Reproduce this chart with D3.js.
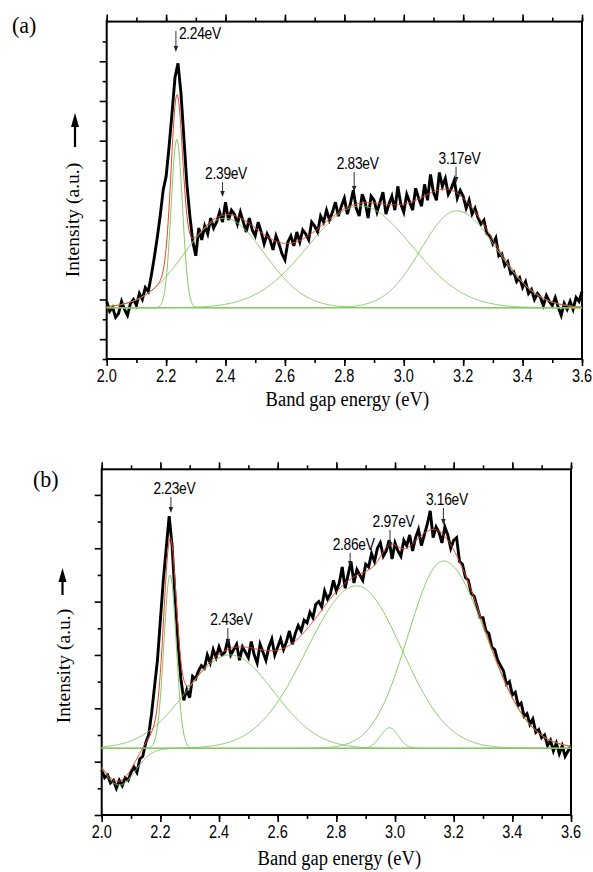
<!DOCTYPE html>
<html>
<head>
<meta charset="utf-8">
<script src="https://cdn.jsdelivr.net/npm/d3@7"></script>
<style>
body { margin: 0; background: #fff; }
svg { display: block; }
</style>
</head>
<body>
<svg id="chart" width="593" height="872"></svg>
<script>
// measured spectra, one value every 0.01 eV from 2.00 to 3.60
var energyStart = 2.0, energyStep = 0.01;

var spectrumA = [
  2.9, 2.4, 2.6, 2.1, 2.3, 2.9, 2.5, 2.2, 2.8, 3.0,
  2.7, 3.3, 3.0, 3.6, 3.4, 4.2, 5.1, 6.1, 7.2, 8.5,
  9.2, 10.7, 12.4, 14.2, 14.9, 13.4, 11.1, 8.8, 7.2, 5.9,
  5.2, 6.6, 6.0, 6.7, 6.3, 7.1, 6.6, 6.9, 7.4, 6.9,
  7.9, 7.0, 7.5, 7.3, 6.8, 7.4, 6.9, 6.4, 7.1, 6.5,
  6.2, 6.9, 6.4, 5.8, 6.3, 6.0, 5.5, 6.2, 5.8, 5.3,
  5.0, 5.9, 6.2, 5.7, 6.4, 5.9, 6.5, 6.3, 6.0, 6.9,
  6.7, 6.4, 7.2, 6.9, 7.5, 7.0, 7.4, 7.9, 7.2, 7.7,
  8.1, 7.3, 7.8, 8.5, 7.6, 7.2, 8.3, 7.9, 7.1, 8.2,
  8.0, 7.4, 7.9, 8.4, 7.3, 7.8, 8.2, 7.5, 8.7, 7.8,
  7.4, 8.3, 7.9, 7.5, 8.6, 8.1, 7.7, 8.8, 8.0, 9.3,
  8.4, 8.0, 9.4, 8.7, 9.1, 8.3, 8.6, 9.0, 8.1, 8.5,
  8.2, 7.6, 8.0, 7.3, 7.6, 7.1, 6.8, 7.0, 6.3, 6.2,
  5.8, 6.1, 5.2, 5.3, 4.7, 4.9, 4.3, 4.4, 3.9, 4.1,
  3.6, 3.9, 3.3, 3.5, 3.0, 3.3, 3.1, 2.7, 3.2, 2.9,
  2.7, 3.1, 2.6, 2.2, 2.8, 2.5, 2.9, 2.5, 3.1, 2.9,
  3.4
];

var spectrumB = [
  1.7, 1.4, 1.5, 1.2, 1.3, 1.0, 1.3, 1.1, 1.4, 1.3,
  1.6, 1.8, 1.6, 2.1, 2.2, 2.7, 3.0, 3.8, 4.8, 5.8,
  7.3, 8.8, 10.0, 11.2, 10.1, 8.2, 6.5, 5.1, 4.3, 4.7,
  4.4, 5.2, 5.1, 5.4, 5.6, 5.5, 6.0, 5.7, 6.2, 5.9,
  6.3, 6.0, 6.1, 6.6, 6.0, 6.2, 6.4, 5.8, 6.3, 6.1,
  5.9, 6.5, 6.0, 5.7, 6.4, 6.1, 5.8, 6.3, 6.6, 6.0,
  6.3, 6.6, 6.2, 6.5, 6.9, 6.4, 6.8, 7.1, 6.9, 7.3,
  7.2, 7.6, 7.4, 7.9, 8.0, 7.8, 8.4, 8.1, 8.3, 8.8,
  8.4, 8.7, 9.3, 8.5, 9.0, 9.5, 8.7, 9.2, 9.0, 8.8,
  9.4, 9.3, 9.8, 9.5, 10.0, 10.2, 9.7, 9.9, 10.3, 9.6,
  10.2, 9.9, 9.7, 10.3, 10.1, 10.5, 9.9, 10.4, 10.7, 10.1,
  10.5, 10.9, 11.4, 10.4, 10.8, 10.6, 10.2, 10.8, 10.5, 10.0,
  10.3, 10.4, 9.5, 9.4, 8.9, 8.8, 8.3, 8.2, 7.8, 7.4,
  7.4, 6.9, 6.8, 6.3, 6.2, 5.8, 5.6, 5.4, 4.9, 5.0,
  4.5, 4.6, 4.1, 4.2, 3.7, 3.8, 3.4, 3.6, 3.1, 3.2,
  2.9, 3.0, 2.6, 2.8, 2.4, 2.7, 2.3, 2.6, 2.2, 2.4,
  2.6
];

// fitted peak components (centre eV, height, left/right width eV)
var baselineA = 2.58;
var peakCentersA = [2.236, 2.396, 2.853, 3.178];
var peakHeightsA = [8.49, 4.51, 5.13, 4.88];
var peakWidthLA = [0.019, 0.135, 0.175, 0.12];
var peakWidthRA = [0.019, 0.135, 0.175, 0.135];

var baselineB = 2.5;
var peakCentersB = [2.06, 2.233, 2.437, 2.869, 2.981, 3.165];
var peakHeightsB = [-1.38, 6.5, 3.5, 6.09, 0.77, 7.02];
var peakWidthLB = [0.055, 0.021, 0.15, 0.17, 0.03, 0.12];
var peakWidthRB = [0.055, 0.021, 0.15, 0.155, 0.03, 0.145];

// arrow labels: energy, arrow tip value
var annotTextA = ["2.24eV", "2.39eV", "2.83eV", "3.17eV"];
var annotEnergyA = [2.233, 2.39, 2.833, 3.176];
var annotTipA = [15.47, 8.16, 8.41, 8.87];
var annotTextB = ["2.23eV", "2.43eV", "2.86eV", "2.97eV", "3.16eV"];
var annotEnergyB = [2.236, 2.43, 2.847, 2.983, 3.165];
var annotTipB = [11.32, 6.37, 9.3, 10.01, 10.87];

var xTicks = [2.0, 2.2, 2.4, 2.6, 2.8, 3.0, 3.2, 3.4, 3.6];

var svg = d3.select("#chart");

function peakValue(e, c, h, wl, wr) {
  var w = e < c ? wl : wr;
  return h * Math.exp(-(e - c) * (e - c) / (2 * w * w));
}

function drawPanel(p) {
  var x = d3.scaleLinear().domain([2.0, 3.6]).range([p.left, p.right]);
  var y = d3.scaleLinear().domain([0, p.ymax]).range([p.bottom, p.top]);
  var g = svg.append("g");

  // minor + major ticks
  var minor = d3.range(20, 37).map(function (d) { return d / 10; });
  g.append("g").attr("transform", "translate(0," + p.bottom + ")")
    .call(d3.axisBottom(x).tickValues(minor).tickSize(4).tickFormat(""));
  g.append("g").attr("transform", "translate(0," + p.bottom + ")")
    .call(d3.axisBottom(x).tickValues(xTicks).tickSize(7).tickFormat(""));
  g.append("g").attr("transform", "translate(0," + p.top + ")")
    .call(d3.axisTop(x).tickValues(minor).tickSize(4).tickFormat(""));
  g.append("g").attr("transform", "translate(0," + p.top + ")")
    .call(d3.axisTop(x).tickValues(xTicks).tickSize(7).tickFormat(""));
  var yTicks = d3.range(0, p.ymaxTick + 1);
  g.append("g").attr("transform", "translate(" + p.left + ",0)")
    .call(d3.axisLeft(y).tickValues(yTicks.filter(function (d) { return d % 2 === p.majorParity; }))
      .tickSize(7).tickFormat(""));
  g.append("g").attr("transform", "translate(" + p.left + ",0)")
    .call(d3.axisLeft(y).tickValues(yTicks.filter(function (d) { return d % 2 !== p.majorParity; }))
      .tickSize(4).tickFormat(""));
  g.selectAll(".domain").remove();
  g.selectAll(".tick line").attr("stroke", "#000").attr("stroke-width", 1.6);

  g.append("rect")
    .attr("x", p.left).attr("y", p.top)
    .attr("width", p.right - p.left).attr("height", p.bottom - p.top)
    .attr("fill", "none").attr("stroke", "#000").attr("stroke-width", 2);

  // tick labels
  xTicks.forEach(function (t) {
    g.append("text")
      .attr("transform", "translate(" + x(t) + "," + (p.bottom + 23) + ") scale(1,1.28)")
      .attr("text-anchor", "middle")
      .attr("font-family", "Liberation Sans, Arial, sans-serif")
      .attr("font-size", 14.5)
      .text(t.toFixed(1));
  });

  // measured spectrum
  var pts = p.spectrum.map(function (v, i) { return [energyStart + i * energyStep, v]; });
  g.append("path")
    .datum(pts)
    .attr("fill", "none").attr("stroke", "#000").attr("stroke-width", 2.9)
    .attr("stroke-linejoin", "miter")
    .attr("d", d3.line().x(function (d) { return x(d[0]); }).y(function (d) { return y(d[1]); }));

  // fit components
  var grid = d3.range(0, 641).map(function (i) { return 2.0 + i * 0.0025; });
  var line = d3.line().x(function (d) { return x(d[0]); }).y(function (d) { return y(d[1]); });
  g.append("line")
    .attr("x1", x(2.0)).attr("x2", x(3.6)).attr("y1", y(p.base)).attr("y2", y(p.base))
    .attr("stroke", "#86c865").attr("stroke-width", 1);
  p.centers.forEach(function (c, k) {
    var comp = grid.map(function (e) {
      return [e, p.base + peakValue(e, c, p.heights[k], p.wl[k], p.wr[k])];
    });
    g.append("path").datum(comp)
      .attr("fill", "none").attr("stroke", "#86c865").attr("stroke-width", 1)
      .attr("d", line);
  });
  var total = grid.map(function (e) {
    var s = p.base;
    p.centers.forEach(function (c, k) { s += peakValue(e, c, p.heights[k], p.wl[k], p.wr[k]); });
    return [e, s];
  });
  g.append("path").datum(total)
    .attr("fill", "none").attr("stroke", "#e8452c").attr("stroke-width", 1)
    .attr("d", line);

  // arrow annotations
  p.annotText.forEach(function (txt, k) {
    var ax = x(p.annotEnergy[k]), tip = y(p.annotTip[k]);
    var top = tip - p.arrowLen[k];
    g.append("line").attr("x1", ax).attr("x2", ax).attr("y1", top).attr("y2", tip - 4)
      .attr("stroke", "#333").attr("stroke-width", 1);
    g.append("path")
      .attr("d", "M" + (ax - 2.2) + "," + (tip - 6) + "L" + (ax + 2.2) + "," + (tip - 6) + "L" + ax + "," + tip + "Z")
      .attr("fill", "#222");
    var tx = p.annotAnchor[k] === "start" ? ax + 3 : ax + 3.5;
    var ty = p.annotAnchor[k] === "start" ? top + 8 : top - 3;
    g.append("text")
      .attr("transform", "translate(" + tx + "," + ty + ") scale(1,1.2)")
      .attr("text-anchor", p.annotAnchor[k])
      .attr("font-family", "Liberation Sans, Arial, sans-serif")
      .attr("font-size", 13.8)
      .attr("letter-spacing", -0.3)
      .text(txt);
  });

  // axis titles
  g.append("text")
    .attr("transform", "translate(" + ((p.left + p.right) / 2 + 3) + "," + (p.bottom + p.xTitleGap) + ") scale(1,1.08)")
    .attr("text-anchor", "middle")
    .attr("font-family", "Liberation Serif, Times New Roman, serif")
    .attr("font-size", 18.5)
    .text("Band gap energy (eV)");
  g.append("text")
    .attr("transform", "translate(" + p.yTitleX + "," + p.yTitleY + ") rotate(-90)")
    .attr("text-anchor", "middle")
    .attr("font-family", "Liberation Serif, Times New Roman, serif")
    .attr("font-size", 19.5)
    .text("Intensity (a.u.)");
  // upward arrow beside the title
  g.append("line")
    .attr("x1", p.upX).attr("x2", p.upX).attr("y1", p.upBottom).attr("y2", p.upTop + 10)
    .attr("stroke", "#000").attr("stroke-width", 2.2);
  g.append("path")
    .attr("d", "M" + (p.upX - 4) + "," + (p.upTop + 14) + "L" + (p.upX + 4) + "," + (p.upTop + 14) +
      "L" + p.upX + "," + p.upTop + "Z")
    .attr("fill", "#000");

  g.append("text")
    .attr("transform", "translate(" + p.tagX + "," + p.tagY + ") scale(1,1.08)")
    .attr("font-family", "Liberation Serif, Times New Roman, serif")
    .attr("font-size", 22)
    .text(p.tag);
}

drawPanel({
  left: 106.7, right: 582, top: 21.6, bottom: 359, ymax: 17, ymaxTick: 16, majorParity: 1,
  spectrum: spectrumA, base: baselineA,
  centers: peakCentersA, heights: peakHeightsA, wl: peakWidthLA, wr: peakWidthRA,
  annotText: annotTextA, annotEnergy: annotEnergyA, annotTip: annotTipA,
  arrowLen: [21, 15, 20, 16], annotAnchor: ["start", "middle", "middle", "middle"],
  xTitleGap: 47, yTitleX: 79, yTitleY: 220, upX: 75, upTop: 113, upBottom: 147,
  tag: "(a)", tagX: 12, tagY: 33
});

drawPanel({
  left: 101.7, right: 571, top: 469.3, bottom: 815, ymax: 12.96, ymaxTick: 12, majorParity: 0,
  spectrum: spectrumB, base: baselineB,
  centers: peakCentersB, heights: peakHeightsB, wl: peakWidthLB, wr: peakWidthRB,
  annotText: annotTextB, annotEnergy: annotEnergyB, annotTip: annotTipB,
  arrowLen: [16, 17, 14, 18, 17], annotAnchor: ["middle", "middle", "middle", "middle", "middle"],
  xTitleGap: 50, yTitleX: 70, yTitleY: 666, upX: 62.5, upTop: 568, upBottom: 595,
  tag: "(b)", tagX: 33, tagY: 487
});
</script>
</body>
</html>
